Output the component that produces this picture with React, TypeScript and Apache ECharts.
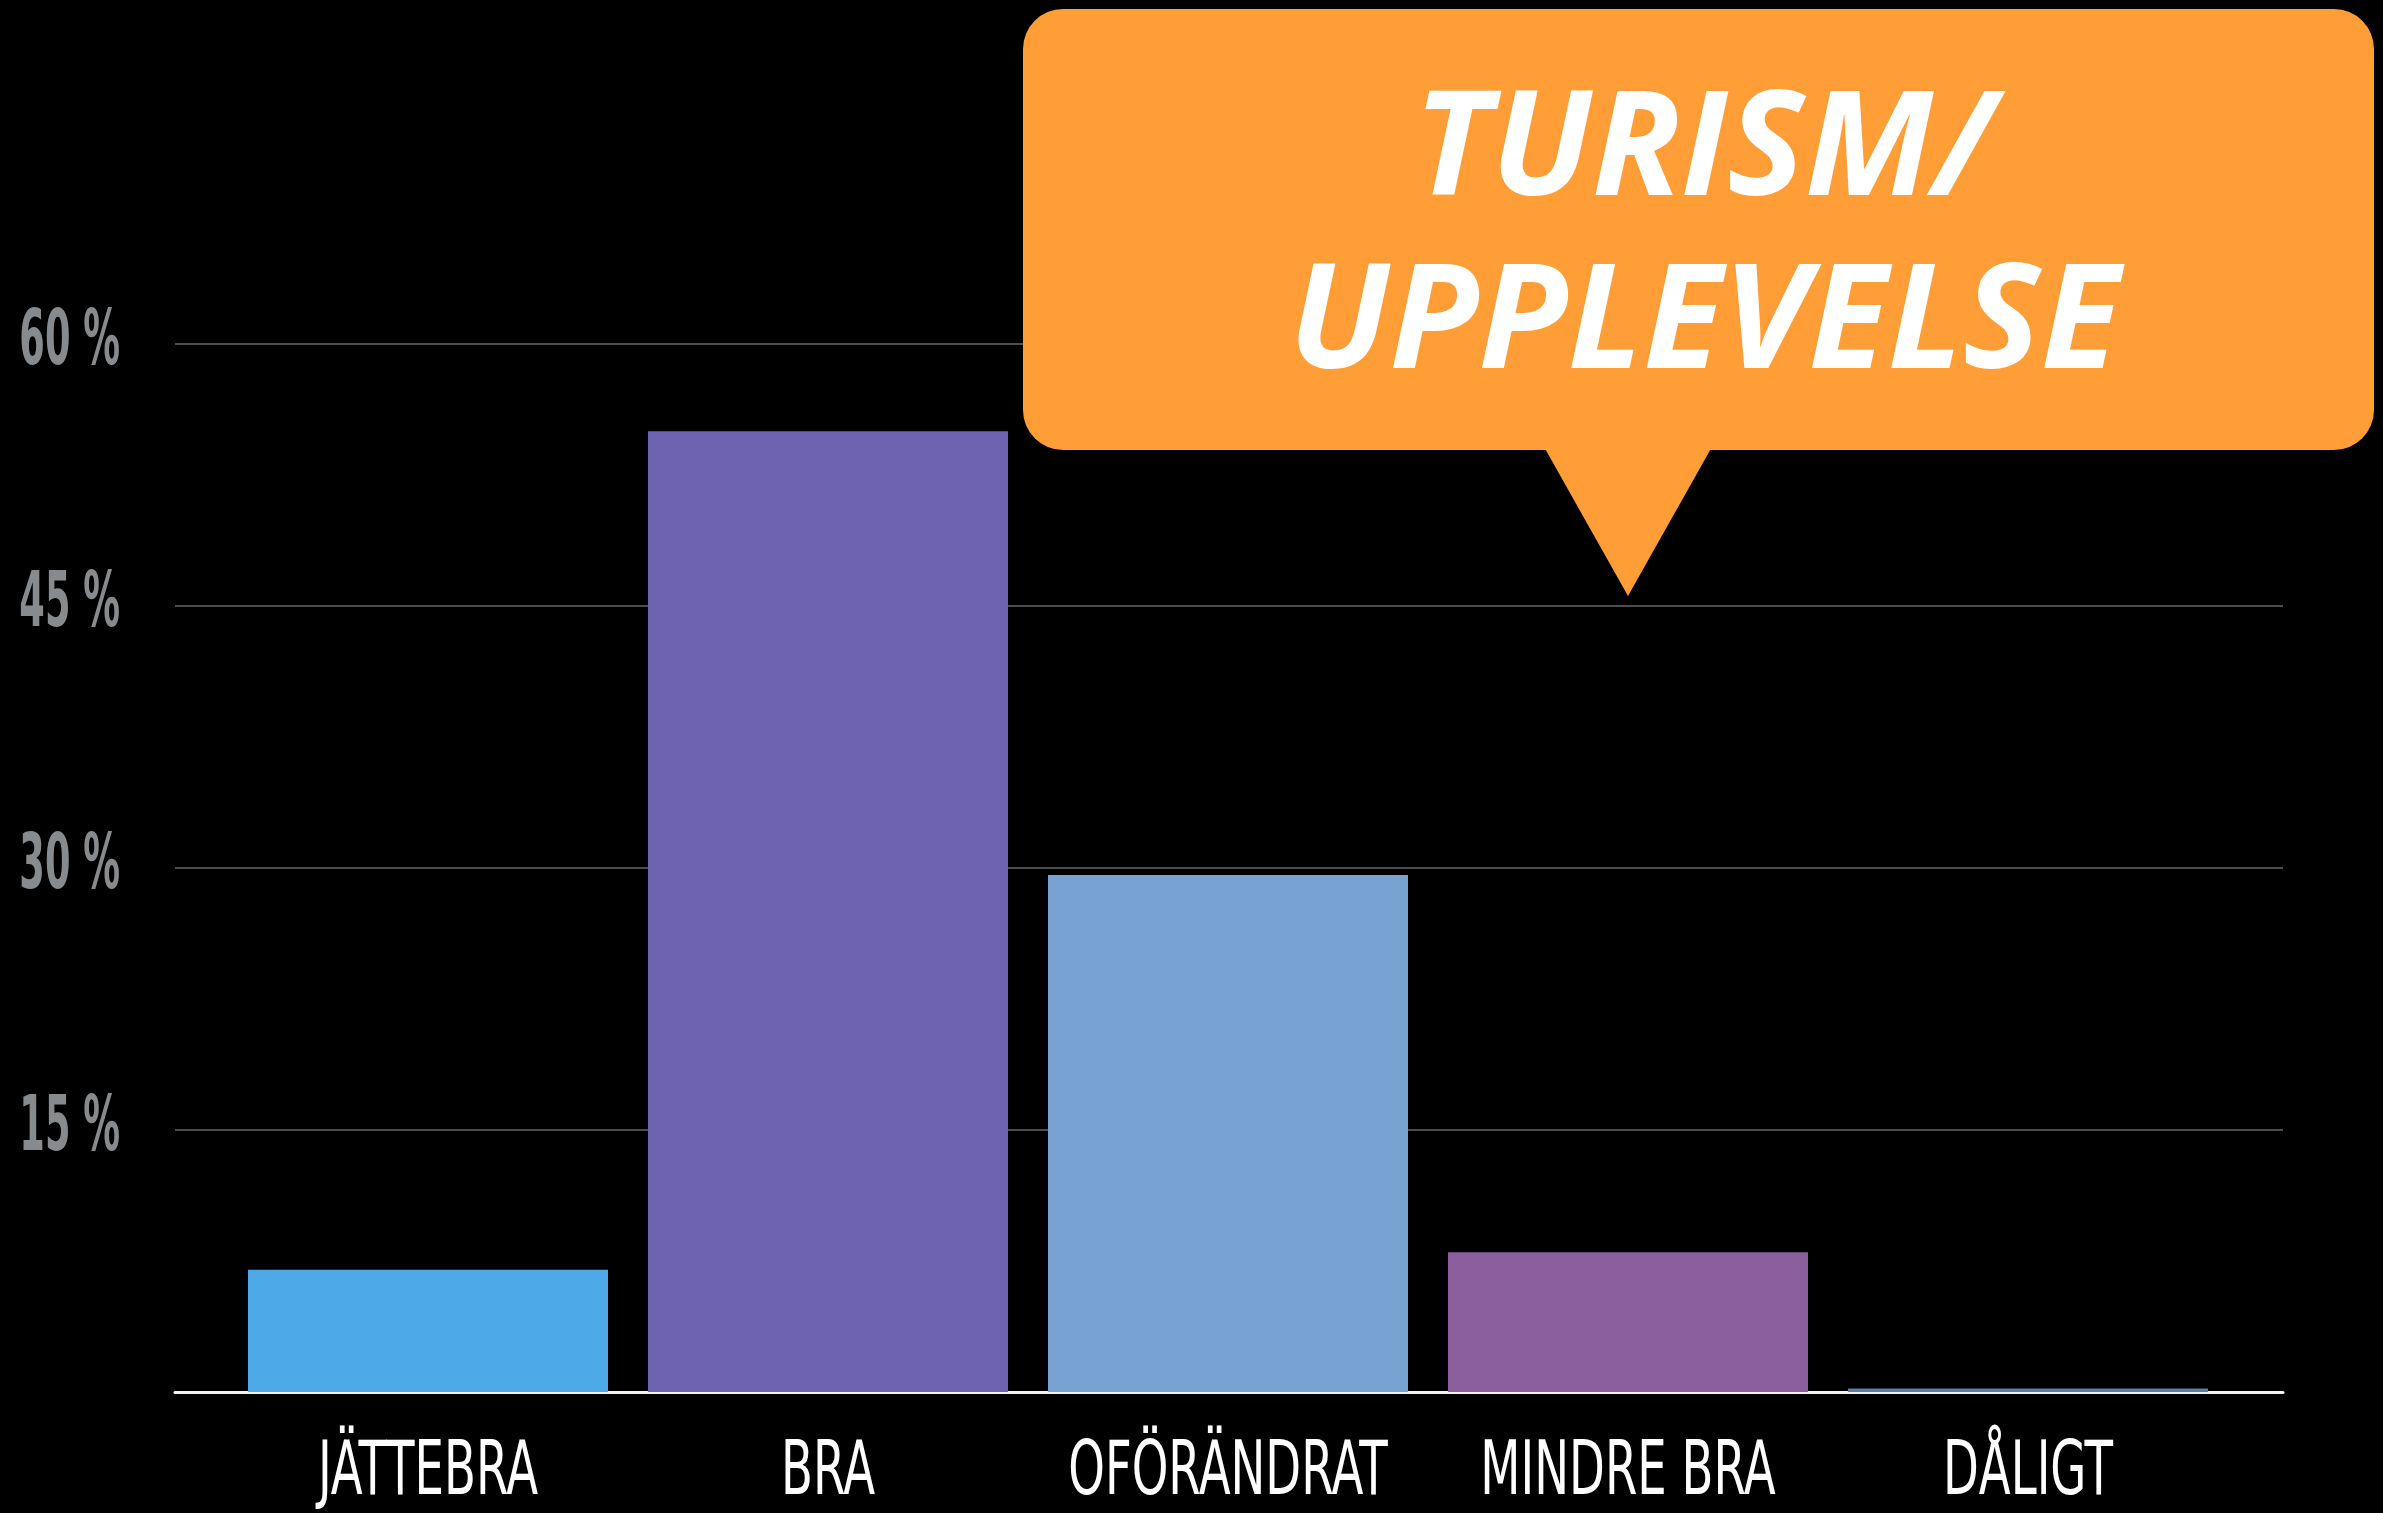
import React, { useEffect, useRef } from "react";
import * as echarts from "echarts";

const categories = ["JÄTTEBRA", "BRA", "OFÖRÄNDRAT", "MINDRE BRA", "DÅLIGT"];
const values = [7, 55, 29.6, 8, 0.2];
const barColors = ["#4DA9E8", "#6E63B1", "#78A2D2", "#8B5E9E", "#5A7EA6"];
const yTicks = [0, 15, 30, 45, 60];
const calloutLines = ["TURISM/", "UPPLEVELSE"];

export default function App() {
  const ref = useRef<HTMLDivElement>(null);
  useEffect(() => {
    document.body.style.margin = "0";
    document.body.style.background = "#000";
    const chart = echarts.init(ref.current!, undefined, { renderer: "svg" });
    const narrow = "'DejaVu Sans Condensed', 'DejaVu Sans', sans-serif";
    chart.setOption({
      animation: false,
      backgroundColor: "#000000",
      grid: [
        { left: 228, right: 155, top: 344, bottom: 121, outerBoundsMode: "none", containLabel: false },
        { left: 175, right: 100, top: 344, bottom: 121, outerBoundsMode: "none", containLabel: false },
      ],
      xAxis: [
        {
          type: "category",
          gridIndex: 0,
          data: categories,
          axisLine: { show: false },
          axisTick: { show: false },
          axisLabel: { show: false },
        },
        {
          type: "value",
          gridIndex: 1,
          min: 0,
          max: 1,
          axisLine: { show: true, lineStyle: { color: "#f2f2f2", width: 3 } },
          axisTick: { show: false },
          axisLabel: { show: false },
          splitLine: { show: false },
        },
      ],
      yAxis: [
        {
          type: "value",
          gridIndex: 0,
          min: yTicks[0],
          max: yTicks[yTicks.length - 1],
          interval: 15,
          axisLine: { show: false },
          axisTick: { show: false },
          axisLabel: { show: false },
          splitLine: { show: false },
        },
        {
          type: "value",
          gridIndex: 1,
          min: yTicks[0],
          max: yTicks[yTicks.length - 1],
          interval: 15,
          axisLine: { show: false },
          axisTick: { show: false },
          axisLabel: { show: false },
          splitLine: { show: true, lineStyle: { color: "#4d4d4d", width: 2 } },
        },
      ],
      series: [
        {
          type: "bar",
          xAxisIndex: 0,
          yAxisIndex: 0,
          barWidth: "90%",
          data: values.map((v, i) => ({ value: v, itemStyle: { color: barColors[i] } })),
          z: 3,
        },
      ],
    });

    const catLabels = categories.map((c) => {
      const px = chart.convertToPixel({ xAxisIndex: 0 }, c) as number;
      return {
        type: "text",
        x: px,
        y: 1469,
        scaleX: 0.7,
        z: 50,
        style: {
          text: c,
          x: 0,
          y: 0,
          fill: "#ffffff",
          font: "normal 74px " + narrow,
          lineHeight: 68,
          textAlign: "center",
          textVerticalAlign: "middle",
          align: "center",
          verticalAlign: "middle",
        },
      };
    });
    const yLabels = yTicks
      .filter((v) => v !== 0)
      .map((v) => {
        const py = chart.convertToPixel({ yAxisIndex: 1 }, v) as number;
        return {
          type: "text",
          x: 120,
          y: py - 6,
          scaleX: 0.53,
          z: 50,
          style: {
            text: v + " %",
            x: 0,
            y: 0,
            fill: "#888b8d",
            font: "bold 77px " + narrow,
            textAlign: "right",
            textVerticalAlign: "middle",
            align: "right",
            verticalAlign: "middle",
          },
        };
      });

    const calloutFont = "italic bold 146px 'Open Sans', sans-serif";
    chart.setOption({
      graphic: [
        ...catLabels,
        ...yLabels,
        {
          type: "rect",
          z: 100,
          shape: { x: 1023, y: 9, width: 1351, height: 441, r: 40 },
          style: { fill: "#FF9E36" },
        },
        {
          type: "polygon",
          z: 100,
          shape: { points: [[1543, 445], [1713, 445], [1628, 596]] },
          style: { fill: "#FF9E36" },
        },
        {
          type: "text",
          z: 101,
          style: {
            text: calloutLines.join("\n"),
            x: 1704,
            y: 225,
            fill: "#ffffff",
            font: calloutFont,
            lineHeight: 173,
            textAlign: "center",
            textVerticalAlign: "middle",
            align: "center",
            verticalAlign: "middle",
          },
        },
      ],
    });
    return () => chart.dispose();
  }, []);
  return <div ref={ref} style={{ width: 2383, height: 1513 }} />;
}
